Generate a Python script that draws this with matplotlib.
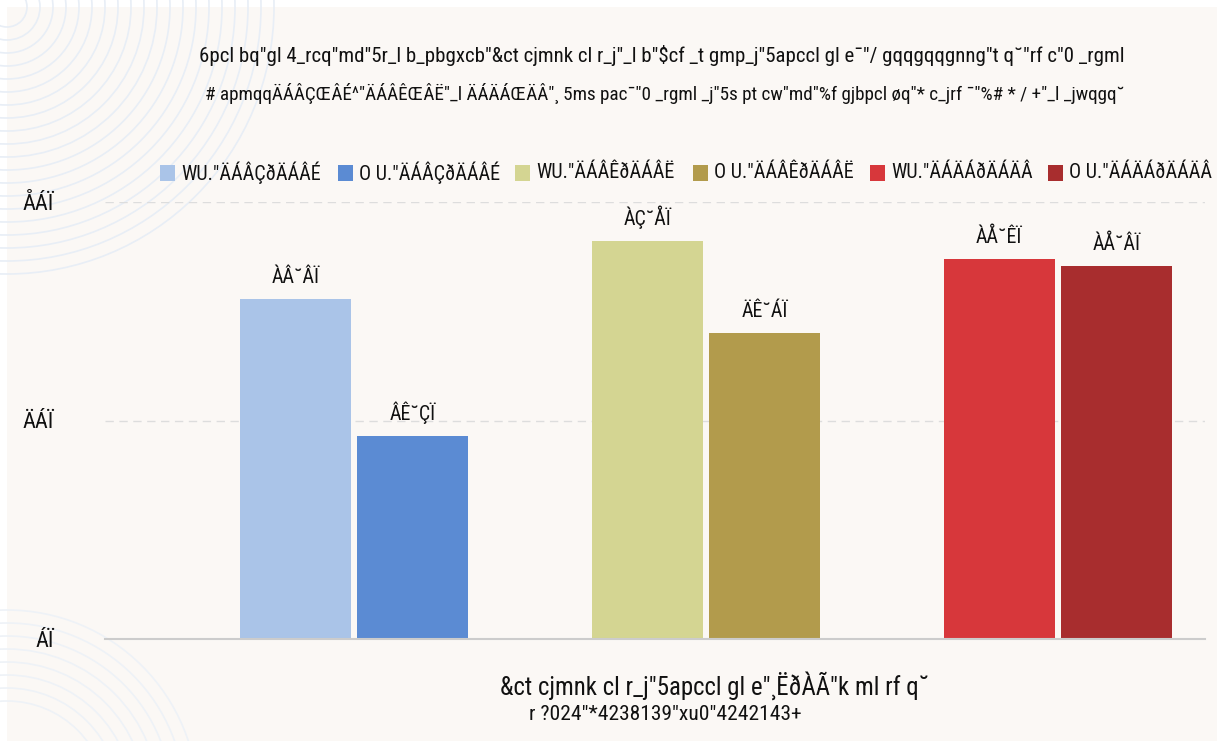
import numpy as np
import matplotlib
matplotlib.use('Agg')
from matplotlib import pyplot as plt
from matplotlib import font_manager
from matplotlib.patches import Rectangle, Circle

# pick a narrow font if one is around, else Liberation Sans
names = set(f.name for f in font_manager.fontManager.ttflist)
FONT = ['Liberation Sans', 'DejaVu Sans']
for cand in ['Liberation Sans Narrow', 'Roboto Condensed', 'Open Sans Condensed']:
    if cand in names:
        FONT = [cand, 'DejaVu Sans']
        break
plt.rcParams['font.family'] = FONT

title_1 = '6pcl bq"gl 4_rcq"md"5r_l b_pbgxcb"&ct cjmnk cl r_j"_l b"$cf _t gmp_j"5apccl gl e¯"/ gqqgqqgnng"t q˘"rf c"0 _rgml'
title_2 = '# apmqqÄÁÂÇŒÂÉ^"ÄÁÂÊŒÂË"_l ÄÁÄÁŒÄÂ"¸ 5ms pac¯"0 _rgml _j"5s pt cw"md"%f gjbpcl øq"* c_jrf ¯"%# * / +"_l _jwqgq˘'
x_label = '&ct cjmnk cl r_j"5apccl gl e"¸ËðÀÃ"k ml rf q˘'
x_note = 'r ?024"*4238139"xu0"4242143+'

series = ['WU."ÄÁÂÇðÄÁÂÉ', 'O U."ÄÁÂÇðÄÁÂÉ', 'WU."ÄÁÂÊðÄÁÂË',
          'O U."ÄÁÂÊðÄÁÂË', 'WU."ÄÁÄÁðÄÁÄÂ', 'O U."ÄÁÄÁðÄÁÄÂ']
values = [31.1, 18.6, 36.4, 28.0, 34.8, 34.1]
value_labels = ['ÀÂ˘ÂÏ', 'ÂÊ˘ÇÏ', 'ÀÇ˘ÅÏ', 'ÄÊ˘ÁÏ', 'ÀÅ˘ÊÏ', 'ÀÅ˘ÂÏ']
colors = ['#aac4e8', '#5b8bd3', '#d4d592', '#b29b4c', '#d7373b', '#a82d2e']
yticks = [0, 20, 40]
ytick_labels = ['ÁÏ', 'ÄÁÏ', 'ÅÁÏ']

W, H = 1217, 741
fig = plt.figure(figsize=(W / 100, H / 100), dpi=100, facecolor='white')
renderer = fig.canvas.get_renderer()


def fit(t, target_px):
    # scale the font so the text is as wide as in the reference
    w = t.get_window_extent(renderer).width
    t.set_fontsize(t.get_fontsize() * target_px / w)
    return t


# cream panel + faint arcs
fig.patches.append(Rectangle((7 / W, 0), 1, 1 - 7 / H, transform=fig.transFigure,
                             facecolor='#fbf8f5', edgecolor='none', zorder=-2))
for r in np.arange(20, 270, 13):
    fig.patches.append(Circle((7, H - 7), r, transform=None, fill=False,
                              edgecolor='#e8eef6', lw=1.2, zorder=-1))
for r in np.arange(100, 200, 13):
    fig.patches.append(Circle((7, -60), r, transform=None, fill=False,
                              edgecolor='#eef2f7', lw=1.2, zorder=-1))

ax = fig.add_axes([105 / W, (H - 639) / H, 1100 / W, (639 - 202) / H])
ax.set_facecolor('none')
ax.set_zorder(2)

group = np.array([0, 0, 1, 1, 2, 2])
side = np.array([-1, 1, -1, 1, -1, 1])
width = 0.315
x = group + side * (width / 2 + 0.009)
bars = ax.bar(x, values, width=width, color=colors, zorder=3)
lab_size = None
for b, lab in zip(bars, value_labels):
    t = ax.text(b.get_x() + b.get_width() / 2, b.get_height() + 1.1, lab,
                ha='center', va='bottom', fontsize=13, color='#111111')
    if lab_size is None:
        lab_size = fit(t, 48).get_fontsize()
    t.set_fontsize(lab_size)

ax.set_xlim(-0.707, 2.418)
ax.set_ylim(0, 40)
ax.set_yticks(yticks)
ax.set_yticklabels(ytick_labels, color='#111111')
ax.tick_params(axis='y', length=0, pad=37)
ax.set_xticks([])
ax.grid(axis='y', color='#dddddd', ls=(0, (6, 4)), lw=1, zorder=0)
for s in ['top', 'right', 'left']:
    ax.spines[s].set_visible(False)
ax.spines['bottom'].set_color('#cccccc')
ax.spines['bottom'].set_linewidth(1.5)
ax.spines['bottom'].set_zorder(4)
tl = ax.get_yticklabels()
fit(tl[2], 31)
for t in tl:
    t.set_fontsize(tl[2].get_fontsize())

fit(fig.text(662 / W, 1 - 55 / H, title_1, ha='center', va='center', fontsize=13, color='#111111'), 925)
fit(fig.text(665 / W, 1 - 93 / H, title_2, ha='center', va='center', fontsize=13, color='#111111'), 920)

# legend drawn by hand so the entries sit at the same spacing as the reference
leg_size = None
for i, (lab, c) in enumerate(zip(series, colors)):
    lx = 160 + i * 177.6
    fig.patches.append(Rectangle((lx / W, 1 - 181 / H), 15 / W, 16 / H,
                                 transform=fig.transFigure, facecolor=c, edgecolor='none', zorder=1))
    t = fig.text((lx + 21) / W, 1 - 173 / H, lab, ha='left', va='center', fontsize=13, color='#111111', zorder=0.9)
    if leg_size is None:
        leg_size = fit(t, 140).get_fontsize()
    t.set_fontsize(leg_size)

fit(fig.text(715 / W, 1 - 686 / H, x_label, ha='center', va='center', fontsize=15, color='#111111'), 430)
fit(fig.text(665 / W, 1 - 715 / H, x_note, ha='center', va='center', fontsize=12, color='#111111'), 270)

fig.savefig('out.png', dpi=100, facecolor=fig.get_facecolor())
